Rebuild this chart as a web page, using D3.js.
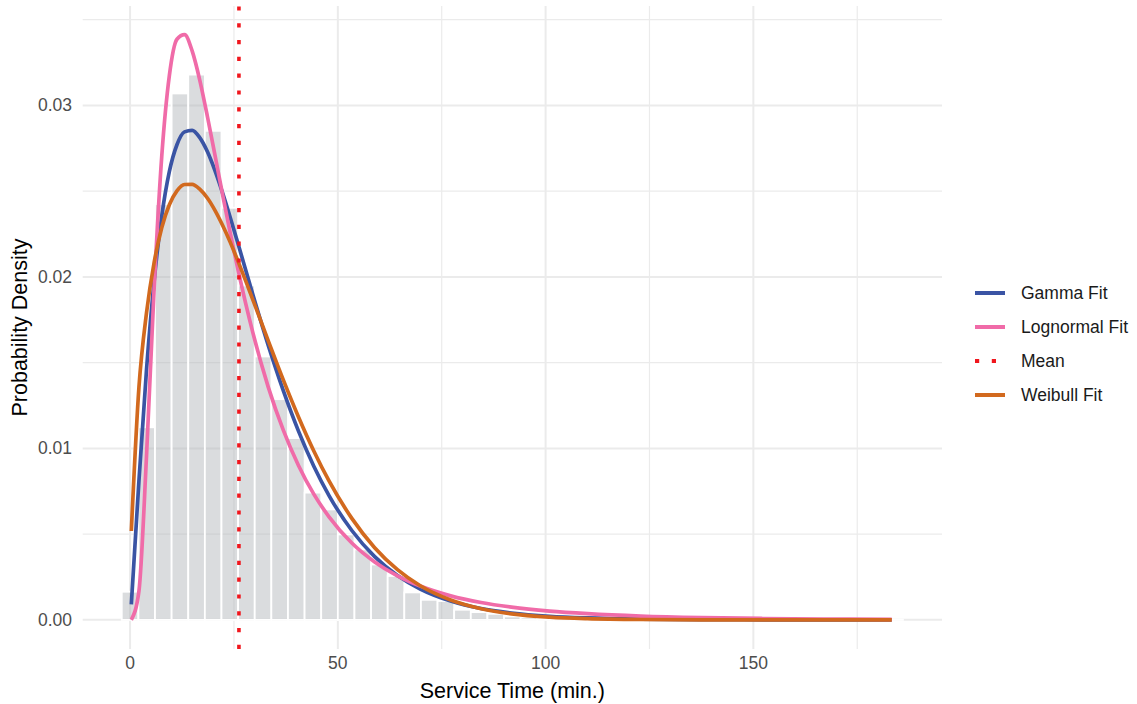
<!DOCTYPE html>
<html>
<head>
<meta charset="utf-8">
<script src="https://cdn.jsdelivr.net/npm/d3@7"></script>
<style>
  body { margin: 0; background: #fff; }
  svg { display: block; font-family: "Liberation Sans", Arial, sans-serif; }
</style>
</head>
<body>
<div id="chart"></div>
<script>
// histogram bins (width 4, centred on these values) and their densities
const binCenters = [0, 4, 8, 12, 16, 20, 24, 28, 32, 36, 40, 44, 48, 52, 56, 60, 64, 68, 72, 76,
  80, 84, 88, 92, 96, 100, 104, 108, 112, 116, 120, 124, 128, 132, 136, 140, 144, 148, 152, 156,
  160, 164, 168, 172, 176, 180, 184];
const binDensity = [0.00164, 0.01123, 0.02424, 0.03070, 0.03180, 0.02852, 0.02403, 0.01950, 0.01536, 0.01287,
  0.01060, 0.00742, 0.00644, 0.00498, 0.00411, 0.00323, 0.00256, 0.00160, 0.00117, 0.00110,
  0.00059, 0.00045, 0.00035, 0.00020, 0.00014, 0.00010, 0.00008, 0.00006, 0.00004, 0.00003,
  0.00003, 0.00002, 0.00001, 0.00001, 0.00001, 0, 0.00001, 0, 0, 0.00001,
  0, 0, 0, 0, 0, 0, 0.00001];

// fitted density curves
const fitX = [0.3, 2.13, 3.96, 5.79, 7.62, 9.45, 11.28, 13.11, 14.94, 16.77, 18.6, 20.43, 22.26, 24.09, 25.92,
  29.58, 33.24, 36.9, 40.56, 44.22, 47.88, 53.37, 58.86, 64.35, 69.84, 77.16, 84.48, 91.8, 100.95,
  110.1, 122.9, 137.6, 152.2, 166.9, 183.3];
const gammaFit = [0.00090, 0.00809, 0.01460, 0.01975, 0.02354, 0.02614, 0.02771, 0.02846, 0.02855, 0.02812,
  0.02731, 0.02620, 0.02490, 0.02348, 0.02199, 0.01894, 0.01602, 0.01335, 0.01099, 0.00896, 0.00725,
  0.00521, 0.00369, 0.00259, 0.00180, 0.00110, 0.00066, 0.00040, 0.00021, 0.00011, 0.00004,
  0.000014, 0.000004, 0.000001, 0];
const lognormalFit = [0, 0.00167, 0.00957, 0.01933, 0.02701, 0.03173, 0.03386, 0.03413, 0.03318, 0.03148,
  0.02937, 0.02710, 0.02481, 0.02258, 0.02048, 0.01672, 0.01359, 0.01105, 0.00899, 0.00733, 0.00601,
  0.00448, 0.00338, 0.00257, 0.00197, 0.00140, 0.00101, 0.00074, 0.00051, 0.00036, 0.00022,
  0.00013, 0.00008, 0.00005, 0.00003];
const weibullFit = [0.00518, 0.01354, 0.01791, 0.02084, 0.02287, 0.02421, 0.02502, 0.02539, 0.02540, 0.02512,
  0.02460, 0.02388, 0.02301, 0.02203, 0.02095, 0.01865, 0.01629, 0.01398, 0.01182, 0.00985, 0.00810,
  0.00592, 0.00421, 0.00293, 0.00199, 0.00116, 0.00065, 0.00035, 0.00016, 0.00007, 0.00002,
  0.000004, 0.000001, 0, 0];
const meanTime = 26.2;

const xTicks = [0, 50, 100, 150];
const xMinor = [25, 75, 125, 175];
const yTicks = [0, 0.01, 0.02, 0.03];
const yMinor = [0.005, 0.015, 0.025, 0.035];
const legendNames = ["Gamma Fit", "Lognormal Fit", "Mean", "Weibull Fit"];
const legendColors = ["#3a54a4", "#f06ba8", "#f0161d", "#d2691e"];

const width = 1137;
const height = 704;
const panel = { left: 82.7, right: 942, top: 6, bottom: 649 };

const x = d3.scaleLinear().domain([-11.4, 195.4]).range([panel.left, panel.right]);
const y = d3.scaleLinear().domain([-0.0017, 0.0358]).range([panel.bottom, panel.top]);

const color = d3.scaleOrdinal(legendNames, legendColors);

const svg = d3.select("#chart")
  .append("svg")
    .attr("width", width)
    .attr("height", height);

// grid
const grid = svg.append("g").attr("stroke", "#ebebeb");
grid.selectAll(".ymin").data(yMinor).join("line")
  .attr("x1", panel.left).attr("x2", panel.right)
  .attr("y1", d => y(d)).attr("y2", d => y(d))
  .attr("stroke-width", 1.2);
grid.selectAll(".xmin").data(xMinor).join("line")
  .attr("x1", d => x(d)).attr("x2", d => x(d))
  .attr("y1", panel.top).attr("y2", panel.bottom)
  .attr("stroke-width", 1.2);
grid.selectAll(".ymaj").data(yTicks).join("line")
  .attr("x1", panel.left).attr("x2", panel.right)
  .attr("y1", d => y(d)).attr("y2", d => y(d))
  .attr("stroke-width", 2);
grid.selectAll(".xmaj").data(xTicks).join("line")
  .attr("x1", d => x(d)).attr("x2", d => x(d))
  .attr("y1", panel.top).attr("y2", panel.bottom)
  .attr("stroke-width", 2);

// histogram
const bins = binCenters.map((c, i) => ({ x0: c - 2, x1: c + 2, d: binDensity[i] }));
svg.append("g")
  .selectAll("rect")
  .data(bins)
  .join("rect")
    .attr("x", d => x(d.x0))
    .attr("width", d => x(d.x1) - x(d.x0))
    .attr("y", d => y(d.d))
    .attr("height", d => y(0) - y(d.d))
    .attr("fill", "#aeb2b6")
    .attr("fill-opacity", 0.45)
    .attr("stroke", "#fff")
    .attr("stroke-width", 1.8);

// fitted curves
const line = d3.line()
  .x(d => x(d[0]))
  .y(d => y(d[1]))
  .curve(d3.curveMonotoneX);

const fits = [
  { name: "Gamma Fit", values: gammaFit },
  { name: "Lognormal Fit", values: lognormalFit },
  { name: "Weibull Fit", values: weibullFit }
];

svg.append("g")
  .selectAll("path")
  .data(fits)
  .join("path")
    .attr("fill", "none")
    .attr("stroke", d => color(d.name))
    .attr("stroke-width", 3.7)
    .attr("stroke-linejoin", "round")
    .attr("d", d => line(fitX.map((v, i) => [v, d.values[i]])));

// mean line
svg.append("line")
  .attr("x1", x(meanTime)).attr("x2", x(meanTime))
  .attr("y1", panel.bottom).attr("y2", panel.top)
  .attr("stroke", color("Mean"))
  .attr("stroke-width", 3.6)
  .attr("stroke-dasharray", "4.2,12.6");

// axes text
const tickFont = 17.5;
svg.append("g")
  .selectAll("text")
  .data(xTicks)
  .join("text")
    .attr("x", d => x(d))
    .attr("y", 669)
    .attr("text-anchor", "middle")
    .attr("font-size", tickFont)
    .attr("fill", "#4d4d4d")
    .text(d => d);

svg.append("g")
  .selectAll("text")
  .data(yTicks)
  .join("text")
    .attr("x", 72)
    .attr("y", d => y(d) + 6)
    .attr("text-anchor", "end")
    .attr("font-size", tickFont)
    .attr("fill", "#4d4d4d")
    .text(d => d3.format(".2f")(d));

svg.append("text")
  .attr("x", (panel.left + panel.right) / 2)
  .attr("y", 698)
  .attr("text-anchor", "middle")
  .attr("font-size", 21.5)
  .attr("fill", "#000")
  .text("Service Time (min.)");

svg.append("text")
  .attr("transform", `translate(27,${(panel.top + panel.bottom) / 2}) rotate(-90)`)
  .attr("text-anchor", "middle")
  .attr("font-size", 21.5)
  .attr("fill", "#000")
  .text("Probability Density");

// legend
const legend = svg.append("g")
  .selectAll("g")
  .data(legendNames)
  .join("g")
    .attr("transform", (d, i) => `translate(975,${293 + i * 34})`);

legend.append("line")
  .attr("x1", 0).attr("x2", 30)
  .attr("stroke", d => color(d))
  .attr("stroke-width", 4)
  .attr("stroke-dasharray", d => d === "Mean" ? "4.2,12.6" : null);

legend.append("text")
  .attr("x", 46)
  .attr("y", 6)
  .attr("font-size", tickFont)
  .attr("fill", "#1a1a1a")
  .text(d => d);
</script>
</body>
</html>
